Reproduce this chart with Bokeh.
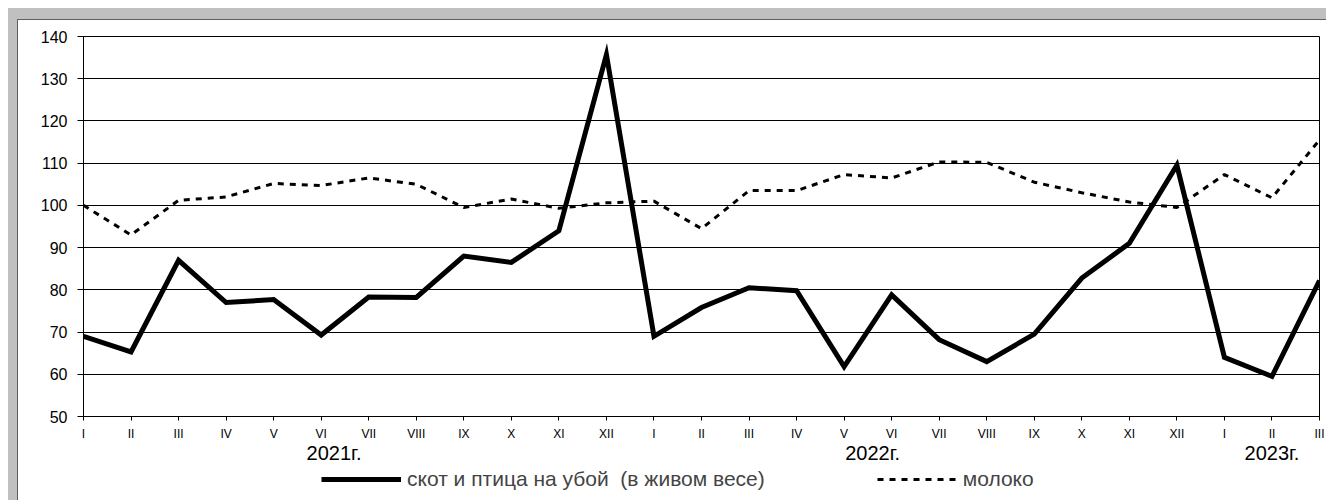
from bokeh.plotting import figure
from bokeh.models import (FixedTicker, Legend, LegendItem, Range1d, Column, Label)
from bokeh.embed import file_html
from bokeh.resources import INLINE

months = ["I", "II", "III", "IV", "V", "VI", "VII", "VIII", "IX", "X", "XI", "XII",
          "I", "II", "III", "IV", "V", "VI", "VII", "VIII", "IX", "X", "XI", "XII",
          "I", "II", "III"]
livestock = [69.0, 65.3, 87.0, 77.0, 77.7, 69.3, 78.3, 78.2, 88.0, 86.5, 94.0, 135.7,
             69.0, 75.8, 80.5, 79.8, 61.8, 78.8, 68.2, 63.0, 69.5, 82.8, 91.0, 109.5,
             64.0, 59.5, 82.2]
milk = [100.0, 93.0, 101.2, 102.0, 105.2, 104.7, 106.5, 105.0, 99.5, 101.5, 99.3, 100.6,
        101.0, 94.5, 103.5, 103.5, 107.3, 106.5, 110.3, 110.2, 105.5, 103.0, 100.8, 99.5,
        107.3, 101.8, 115.5]
years = ["2021г.", "2022г.", "2023г."]
year_pos = [5.27, 16.6, 25.0]
y_ticks = [50, 60, 70, 80, 90, 100, 110, 120, 130, 140]
series_names = ["скот и птица на убой  (в живом весе)", "молоко"]

x = list(range(len(months)))
FONT = "Liberation Sans"
xr = Range1d(0, len(months) - 1)

# main chart
p = figure(width=1309, height=423, output_backend="svg", toolbar_location=None,
           x_range=xr, y_range=Range1d(50, 140),
           min_border_left=65, min_border_right=8, min_border_top=16, min_border_bottom=27,
           background_fill_color="white", border_fill_color="white")

p.outline_line_color = "black"
p.outline_line_width = 1

p.xaxis.ticker = FixedTicker(ticks=x)
p.xaxis.major_label_overrides = {i: m for i, m in enumerate(months)}
p.xaxis.major_label_text_font = FONT
p.xaxis.major_label_text_font_size = "12px"
p.xaxis.major_label_text_color = "black"
p.xaxis.major_tick_out = 4
p.xaxis.major_tick_in = 0
p.xaxis.minor_tick_line_color = None
p.xaxis.axis_line_color = "black"
p.xaxis.major_tick_line_color = "black"
p.xaxis.major_label_standoff = 6

p.yaxis.ticker = FixedTicker(ticks=y_ticks)
p.yaxis.major_label_text_font = FONT
p.yaxis.major_label_text_font_size = "16px"
p.yaxis.major_label_text_color = "black"
p.yaxis.major_tick_out = 6
p.yaxis.major_tick_in = 0
p.yaxis.minor_tick_line_color = None
p.yaxis.axis_line_color = "black"
p.yaxis.major_tick_line_color = "black"
p.yaxis.major_label_standoff = 10

p.xgrid.grid_line_color = None
p.ygrid.grid_line_color = "black"
p.ygrid.grid_line_width = 1

p.line(x, livestock, line_color="black", line_width=5, line_join="miter")
p.line(x, milk, line_color="black", line_width=3, line_dash="6 6")

# strip below: year labels and legend (shares the x scale)
p2 = figure(width=1309, height=58, output_backend="svg", toolbar_location=None,
            x_range=xr, y_range=Range1d(0, 58),
            x_axis_location=None, y_axis_location=None,
            min_border_left=65, min_border_right=8, min_border_top=0, min_border_bottom=0,
            background_fill_color="white", border_fill_color="white")
p2.grid.visible = False
p2.outline_line_color = None
p2.extra_y_ranges = {"hidden": Range1d(1000, 2000)}

for yr, xp in zip(years, year_pos):
    p2.add_layout(Label(x=xp, y=47.5, text=yr, text_align="center", text_baseline="middle",
                        text_font=FONT, text_font_size="20px", text_color="black"))

# legend samples: same series, drawn on an off-screen range of the strip
l1 = p2.line(x, livestock, line_color="black", line_width=5, y_range_name="hidden")
l2 = p2.line(x, milk, line_color="black", line_width=3, line_dash="6 6", y_range_name="hidden")

legend = Legend(items=[LegendItem(label=series_names[0], renderers=[l1]),
                       LegendItem(label=series_names[1], renderers=[l2])],
                orientation="horizontal", location=(238, 9),
                glyph_width=80, glyph_height=24, label_height=24,
                label_text_font=FONT, label_text_font_size="21px",
                label_standoff=6, spacing=112, padding=0, margin=0,
                background_fill_alpha=0, border_line_color=None)
p2.add_layout(legend)

p.styles = {"border-top": "1px solid #606060", "border-left": "1px solid #606060"}
p2.styles = {"border-left": "1px solid #606060"}
layout = Column(p, p2, spacing=0,
                styles={"background-color": "white", "border-left": "9px solid #c0c0c0",
                        "border-top": "11px solid #c0c0c0", "margin-left": "8px",
                        "margin-top": "8px"})

open("out.html", "w").write(file_html(layout, INLINE))
